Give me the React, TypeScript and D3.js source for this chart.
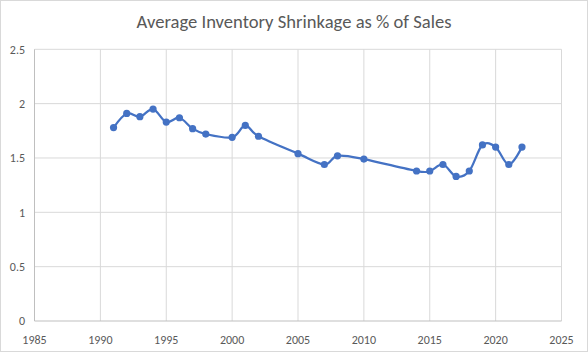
import React from "react";
import * as d3 from "d3";

const years = [1991, 1992, 1993, 1994, 1995, 1996, 1997, 1998, 2000, 2001, 2002, 2005, 2007, 2008, 2010, 2014, 2015, 2016, 2017, 2018, 2019, 2020, 2021, 2022];
const shrink = [1.78, 1.91, 1.88, 1.95, 1.83, 1.87, 1.77, 1.72, 1.69, 1.80, 1.70, 1.54, 1.44, 1.52, 1.49, 1.38, 1.38, 1.44, 1.33, 1.38, 1.62, 1.60, 1.44, 1.60];
const xTicks = [1985, 1990, 1995, 2000, 2005, 2010, 2015, 2020, 2025];
const yTicks = [0, 0.5, 1, 1.5, 2, 2.5];
const title = "Average Inventory Shrinkage as % of Sales";

export default function App() {
  const W = 588, H = 352;
  const x = d3.scaleLinear().domain([1985, 2025]).range([34.5, 561.5]);
  const y = d3.scaleLinear().domain([0, 2.5]).range([321, 49.3]);
  const data = years.map((yr, i) => ({ yr, v: shrink[i] }));
  const line = d3.line<{ yr: number; v: number }>()
    .x(d => x(d.yr))
    .y(d => y(d.v))
    .curve(d3.curveCatmullRom.alpha(0));
  const font = "Calibri, Carlito, Lato, 'Liberation Sans', sans-serif";
  return (
    <svg width={W} height={H} style={{ position: "absolute", left: 0, top: 0 }} fontFamily={font}>
      <rect x={0.5} y={0.5} width={W - 1} height={H - 1} fill="#fff" stroke="#D9D9D9" />
      <text x={W / 2} y={28} textAnchor="middle" fontSize={18.6} fill="#595959" fontWeight={300}>{title}</text>
      {yTicks.map(t => (
        <g key={"y" + t}>
          {t !== 0 && <line x1={x(1985)} x2={x(2025)} y1={y(t)} y2={y(t)} stroke="#D9D9D9" strokeWidth={1} />}
          <text x={25} y={y(t)} dy="0.35em" textAnchor="end" fontSize={12} fill="#595959">{t}</text>
        </g>
      ))}
      {xTicks.map(t => (
        <g key={"x" + t}>
          {t !== 1985 && <line x1={x(t)} x2={x(t)} y1={y(0)} y2={y(2.5)} stroke="#D9D9D9" strokeWidth={1} />}
          <text x={x(t)} y={344} textAnchor="middle" fontSize={12} fill="#595959">{t}</text>
        </g>
      ))}
      <line x1={x(1985)} x2={x(1985)} y1={y(0)} y2={y(2.5)} stroke="#BFBFBF" strokeWidth={1} />
      <line x1={x(1985)} x2={x(2025)} y1={y(0)} y2={y(0)} stroke="#BFBFBF" strokeWidth={1} />
      <path d={line(data) || ""} fill="none" stroke="#4472C4" strokeWidth={2.25} strokeLinejoin="round" />
      {data.map(d => (
        <circle key={d.yr} cx={x(d.yr)} cy={y(d.v)} r={3.6} fill="#4472C4" />
      ))}
    </svg>
  );
}
